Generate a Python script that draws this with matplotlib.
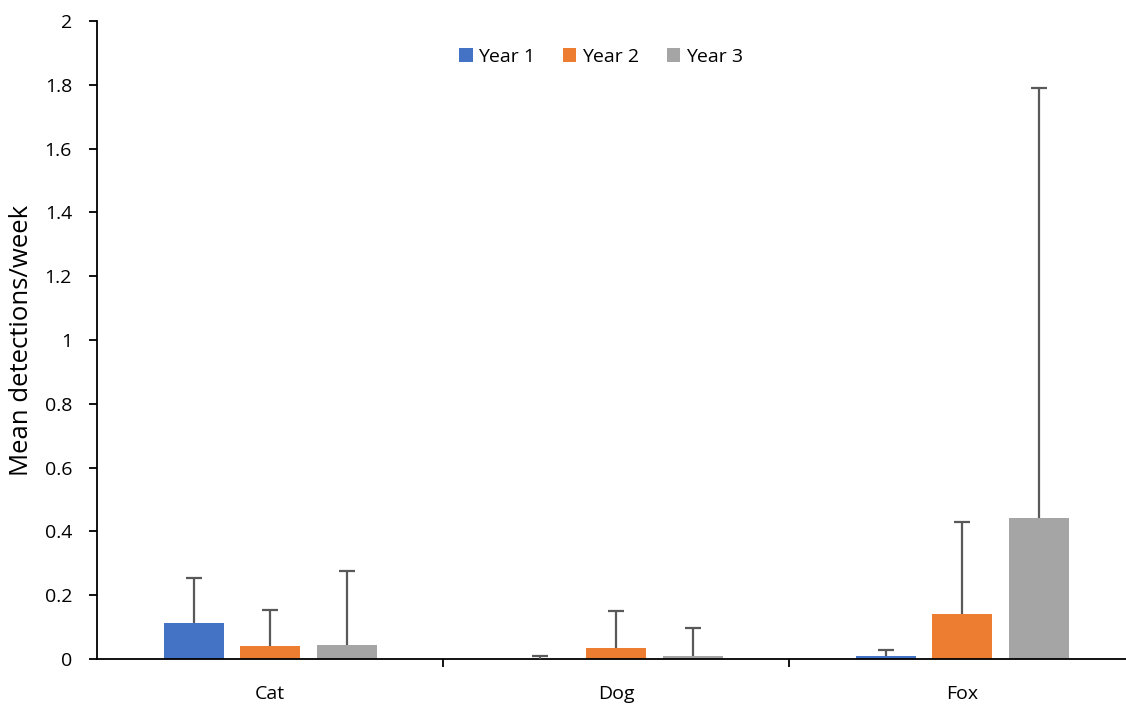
import matplotlib
matplotlib.use("Agg")
import matplotlib.pyplot as plt
import numpy as np
from matplotlib.ticker import FuncFormatter, FixedLocator

plt.rcParams['font.family'] = ['Open Sans', 'DejaVu Sans']

categories = ["Cat", "Dog", "Fox"]
series_names = ["Year 1", "Year 2", "Year 3"]
year1 = [0.113, 0.0, 0.009]
year2 = [0.041, 0.034, 0.141]
year3 = [0.044, 0.010, 0.442]
year1_err = [0.142, 0.008, 0.020]
year2_err = [0.113, 0.116, 0.290]
year3_err = [0.232, 0.086, 1.348]
colors = ["#4472C4", "#ED7D31", "#A5A5A5"]

values = [year1, year2, year3]
errors = [year1_err, year2_err, year3_err]

W, H = 1126, 705
fig = plt.figure(figsize=(W / 100, H / 100), dpi=100)
left, right, bottom, top = 97, 1135, 659, 21
ax = fig.add_axes([left / W, 1 - bottom / H, (right - left) / W, (bottom - top) / H])

x = np.arange(len(categories))
bw = 60 / 346
step = 76.5 / 346
for i, (vals, errs, c, name) in enumerate(zip(values, errors, colors, series_names)):
    pos = x + (i - 1) * step
    ax.bar(pos, vals, width=bw, color=c, label=name, zorder=2)
    _, caps, _ = ax.errorbar(pos, vals, yerr=[np.zeros(len(errs)), errs], fmt='none',
                             ecolor='#595959', elinewidth=1.6, capsize=6, capthick=1.6, zorder=3)
    for cl in caps:
        yd = np.asarray(cl.get_ydata(), dtype=float)
        if np.allclose(yd, np.asarray(vals, dtype=float)):
            cl.set_visible(False)

ax.set_xlim(-0.5, len(categories) - 0.5)
ax.set_ylim(0, 2)
ax.set_yticks(np.arange(0, 2.01, 0.2))
ax.yaxis.set_major_formatter(FuncFormatter(lambda v, p: f"{v:g}"))
ax.set_xticks(x)
ax.set_xticklabels(categories)
ax.xaxis.set_minor_locator(FixedLocator([0.5, 1.5, 2.5]))
ax.tick_params(axis='x', which='major', length=0, labelsize=14, pad=19, colors='black')
ax.tick_params(axis='x', which='minor', length=6, width=1.3, direction='out')
ax.tick_params(axis='y', length=6, width=1.3, direction='out', labelsize=14, pad=12)
for s in ['top', 'right']:
    ax.spines[s].set_visible(False)
for s in ['left', 'bottom']:
    ax.spines[s].set_linewidth(1.3)
    ax.spines[s].set_color('black')

ax.set_ylabel("Mean detections/week", fontsize=18.5)
ax.yaxis.set_label_coords((34 - left) / (right - left), 0.5)

leg = fig.legend(loc='center', bbox_to_anchor=(601 / W, 1 - 57 / H), ncol=3, frameon=False,
                 fontsize=14, handlelength=0.7, handleheight=0.7, handletextpad=0.3,
                 columnspacing=1.4)

fig.savefig("out.png", dpi=100)
